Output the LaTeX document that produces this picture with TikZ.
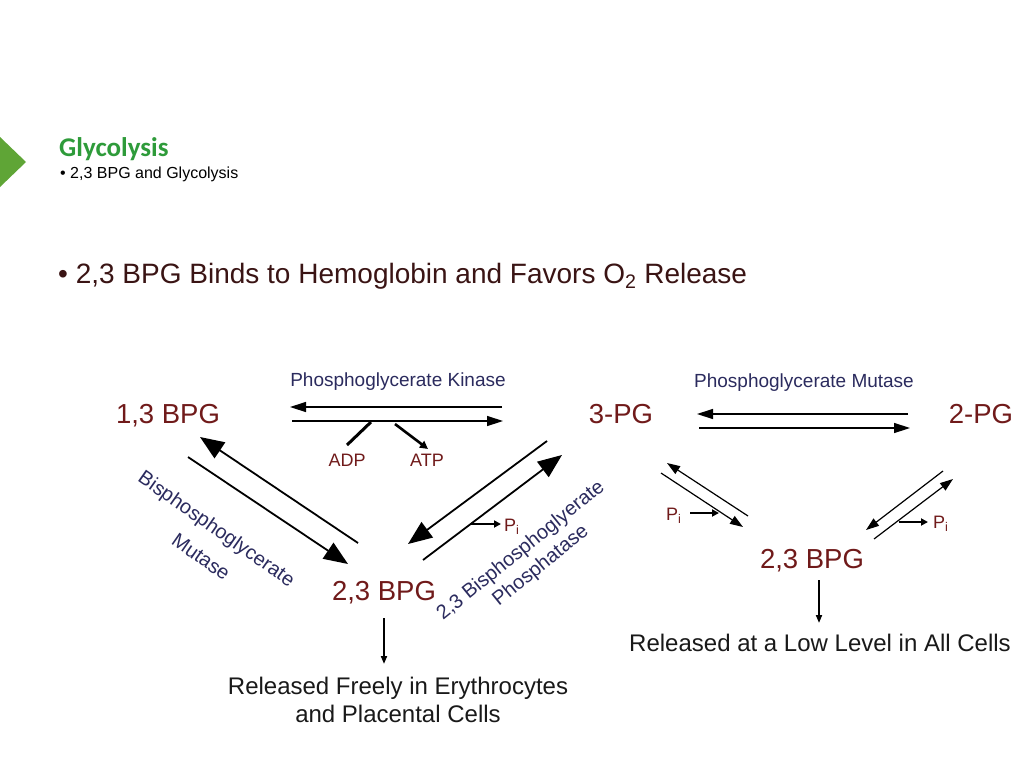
\documentclass[tikz,border=0pt]{standalone}
\usepackage{fontspec}
\setmainfont{Liberation Sans}
\newfontfamily\calibri{Carlito}
\usetikzlibrary{arrows.meta}
\definecolor{cpdc}{HTML}{701A1A}
\definecolor{enzc}{HTML}{2B2B5E}
\definecolor{headc}{HTML}{3A1414}
\definecolor{gtri}{HTML}{5FA536}
\definecolor{gtxt}{HTML}{2E9B3A}
\begin{document}
\begin{tikzpicture}[x=1pt,y=-1pt,
  cpd/.style={text=cpdc, font=\fontsize{27.5}{32}\selectfont, inner sep=0pt, anchor=base},
  enz/.style={text=enzc, font=\fontsize{19}{23}\selectfont, inner sep=0pt, anchor=base},
  enzr/.style={text=enzc, font=\fontsize{20}{24}\selectfont, inner sep=0pt, anchor=center},
  small/.style={text=cpdc, font=\fontsize{18}{22}\selectfont, inner sep=0pt, anchor=base},
  reltext/.style={text=black!90, font=\fontsize{24}{28}\selectfont, inner sep=0pt, anchor=base},
  bigarr/.style={-{Triangle[length=24pt,width=19pt]}, line width=1.8pt},
  midarr/.style={-{Triangle[length=16pt,width=10pt]}, line width=1.4pt},
  smallarr/.style={-{Triangle[length=13pt,width=9pt]}, line width=1.2pt},
  piarr/.style={-{Triangle[length=7pt,width=7pt]}, line width=2.5pt},
  relarr/.style={-{Triangle[length=8pt,width=6pt]}, line width=1.8pt},
  plainline/.style={line width=1.8pt}]
\useasboundingbox (0,0) rectangle (1024,768);
\fill[white] (0,0) rectangle (1024,768);

% header
\fill[gtri] (0,137) -- (26,162) -- (0,187) -- cycle;
\node[text=gtxt, font=\calibri\bfseries\fontsize{27}{31}\selectfont, inner sep=0pt, anchor=base west] (title) at (59,156) {Glycolysis};
\node[text=black, font=\fontsize{16}{19}\selectfont, inner sep=0pt, anchor=base west] (sub) at (60,178) {\textbullet\ 2,3 BPG and Glycolysis};
\node[text=headc, font=\fontsize{28}{33}\selectfont, inner sep=0pt, anchor=base west] (headline) at (58,283) {\textbullet\ 2,3 BPG Binds to Hemoglobin and Favors O\textsubscript{2} Release};

% compounds
\node[cpd] (bpg13) at (168,423) {1,3 BPG};
\node[cpd] (pg3) at (621,423) {3-PG};
\node[cpd] (pg2) at (981,423) {2-PG};
\node[cpd] (bpgL) at (384,600) {2,3 BPG};
\node[cpd] (bpgR) at (812,568) {2,3 BPG};

% enzymes
\node[enz] (pgk) at (398,386) {Phosphoglycerate Kinase};
\node[enz] (pgm) at (804,387) {Phosphoglycerate Mutase};
\node[enzr, rotate=-35] (bm1) at (216,530) {Bisphosphoglycerate};
\node[enzr, rotate=-35] (bm2) at (201,557) {Mutase};
\node[enzr, rotate=39] (bp1) at (521,551) {2,3 Bisphosphoglyerate};
\node[enzr, rotate=39] (bp2) at (541,566) {Phosphatase};

% small labels
\node[small] (adp) at (347,466) {ADP};
\node[small] (atp) at (427,466) {ATP};
\node[small, anchor=base west] (pi1) at (504,531) {P\textsubscript{i}};
\node[small, anchor=base west] (pi2) at (666,520) {P\textsubscript{i}};
\node[small, anchor=base west] (pi3) at (933,528) {P\textsubscript{i}};

% release texts
\node[reltext] (relL1) at (398,694) {Released Freely in Erythrocytes};
\node[reltext] (relL2) at (398,722) {and Placental Cells};
\node[reltext] (relR) at (820,651) {Released at a Low Level in All Cells};

% coordinates
\coordinate (k1s) at (502,407); \coordinate (k1e) at (290,407);
\coordinate (k2s) at (292,421); \coordinate (k2e) at (503,421);
\coordinate (adpA) at (347,445); \coordinate (adpB) at (371,422);
\coordinate (atpA) at (395,424); \coordinate (atpB) at (428,449);
\coordinate (l1s) at (358,543); \coordinate (l1e) at (200,437);
\coordinate (l2s) at (188,457); \coordinate (l2e) at (348,564);
\coordinate (m1s) at (547,441); \coordinate (m1e) at (408,544);
\coordinate (m2s) at (423,560); \coordinate (m2e) at (562,455);
\coordinate (p1s) at (470,524); \coordinate (p1e) at (501,524);
\coordinate (u1s) at (908,414); \coordinate (u1e) at (697,414);
\coordinate (u2s) at (699,428); \coordinate (u2e) at (910,428);
\coordinate (r1s) at (748,516); \coordinate (r1e) at (667,463);
\coordinate (r2s) at (661,473); \coordinate (r2e) at (743,527);
\coordinate (r3s) at (943,471); \coordinate (r3e) at (866,530);
\coordinate (r4s) at (874,539); \coordinate (r4e) at (953,479);
\coordinate (p2s) at (690,513); \coordinate (p2e) at (719,513);
\coordinate (p3s) at (899,522); \coordinate (p3e) at (928,522);
\coordinate (vLs) at (384,618); \coordinate (vLe) at (384,664);
\coordinate (vRs) at (819,580); \coordinate (vRe) at (819,623);

% connectors
\draw[midarr] (k1s) -- (k1e);
\draw[midarr] (k2s) -- (k2e);
\draw[line width=3pt] (adpA) -- (adpB);
\draw[-{Triangle[length=8pt,width=8pt]}, line width=2.6pt] (atpA) -- (atpB);
\draw[bigarr] (l1s) -- (l1e);
\draw[bigarr] (l2s) -- (l2e);
\draw[bigarr] (m1s) -- (m1e);
\draw[bigarr] (m2s) -- (m2e);
\draw[piarr] (p1s) -- (p1e);
\draw[midarr] (u1s) -- (u1e);
\draw[midarr] (u2s) -- (u2e);
\draw[smallarr] (r1s) -- (r1e);
\draw[smallarr] (r2s) -- (r2e);
\draw[smallarr] (r3s) -- (r3e);
\draw[smallarr] (r4s) -- (r4e);
\draw[piarr] (p2s) -- (p2e);
\draw[piarr] (p3s) -- (p3e);
\draw[relarr] (vLs) -- (vLe);
\draw[relarr] (vRs) -- (vRe);
\end{tikzpicture}
\end{document}
